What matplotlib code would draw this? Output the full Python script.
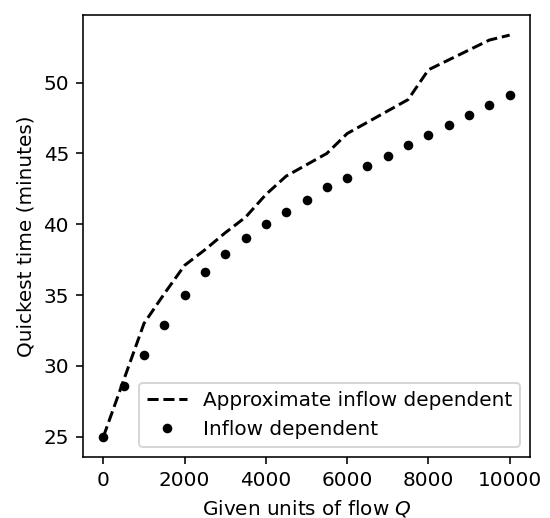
import matplotlib
matplotlib.use('Agg')
import matplotlib.pyplot as plt
import numpy as np

flow = np.arange(0, 10001, 500)                         # units of flow Q

approx_time = [25.0, 29.0, 33.0, 35.1, 37.1, 38.2, 39.4, 40.5, 42.1, 43.4, 44.2,
               45.0, 46.4, 47.2, 48.0, 48.8, 50.9, 51.6, 52.3, 53.0, 53.35]
inflow_time = [25.0, 28.6, 30.8, 32.9, 35.0, 36.6, 37.9, 39.0, 40.0, 40.9, 41.7,
               42.6, 43.3, 44.1, 44.85, 45.6, 46.3, 47.0, 47.7, 48.4, 49.1]

dpi = 144
fig = plt.figure(figsize=(550/dpi, 518/dpi), dpi=dpi)
ax = fig.add_axes([0.151, 0.118, 0.8126, 0.853])

ax.plot(flow, approx_time, 'k--', label='Approximate inflow dependent')
ax.plot(flow, inflow_time, 'ko', markersize=3.8, linestyle='none', label='Inflow dependent')

ax.set_xlabel(r'Given units of flow $Q$')
ax.set_ylabel('Quickest time (minutes)')
ax.set_xticks([0, 2000, 4000, 6000, 8000, 10000])
ax.set_yticks([25, 30, 35, 40, 45, 50])
ax.legend(loc='lower right')

fig.savefig('out.png', dpi=dpi)
